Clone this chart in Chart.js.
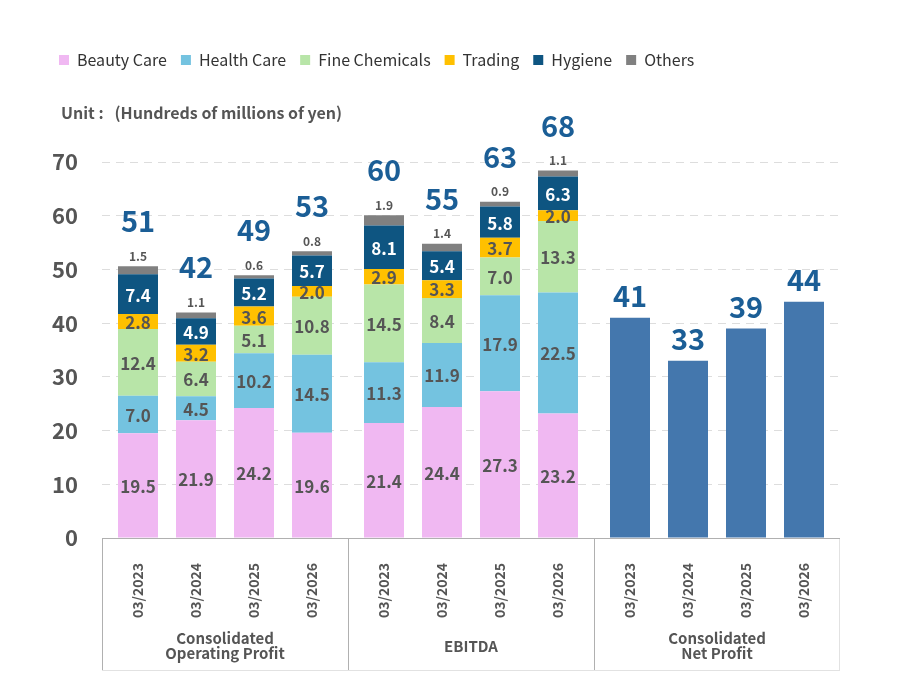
<!DOCTYPE html>
<html>
<head>
<meta charset="utf-8">
<script src="https://cdn.jsdelivr.net/npm/chart.js@4/dist/chart.umd.min.js"></script>
<style>
  html, body { margin: 0; background: #fff; }
  #wrap { width: 900px; height: 700px; }
</style>
</head>
<body>
<div id="wrap"><canvas id="chart" width="900" height="700"></canvas></div>
<script>
// ===== Data =====
const periods = ["03/2023", "03/2024", "03/2025", "03/2026"];
const groupNames = [["Consolidated", "Operating Profit"], ["EBITDA"], ["Consolidated", "Net Profit"]];
const segmentNames = ["Beauty Care", "Health Care", "Fine Chemicals", "Trading", "Hygiene", "Others"];

// first 4 = operating profit, next 4 = EBITDA (by period)
const beautyCare    = [19.5, 21.9, 24.2, 19.6, 21.4, 24.4, 27.3, 23.2];
const healthCare    = [7.0, 4.5, 10.2, 14.5, 11.3, 11.9, 17.9, 22.5];
const fineChemicals = [12.4, 6.4, 5.1, 10.8, 14.5, 8.4, 7.0, 13.3];
const trading       = [2.8, 3.2, 3.6, 2.0, 2.9, 3.3, 3.7, 2.0];
const hygiene       = [7.4, 4.9, 5.2, 5.7, 8.1, 5.4, 5.8, 6.3];
const others        = [1.5, 1.1, 0.6, 0.8, 1.9, 1.4, 0.9, 1.1];
const netProfit     = [41, 33, 39, 44];

const yMax = 70;
const yStep = 10;

// ===== Styles =====
const FONT = '"Noto Sans CJK JP", "Source Sans Pro", "Noto Sans", sans-serif';
const segColors = ["#f0b8f2", "#74c3e0", "#b8e5a8", "#ffc000", "#0e5581", "#808080"];
const netColor = "#4477ad";
const totalColor = "#1b5e96";
const textGray = "#555555";

Chart.defaults.font.family = FONT;

const segData = [beautyCare, healthCare, fineChemicals, trading, hygiene, others];

// one stack per period, placed side by side inside each group
const datasets = [];
periods.forEach((p, pi) => {
  segData.forEach((arr, d) => {
    datasets.push({
      label: segmentNames[d],
      data: [arr[pi], arr[4 + pi], null],
      backgroundColor: segColors[d],
      stack: p
    });
  });
  datasets.push({
    label: "Net Profit",
    data: [null, null, netProfit[pi]],
    backgroundColor: netColor,
    stack: p
  });
});

// ===== Labels + axis boxes =====
const annotate = {
  id: "annotate",
  beforeInit(chart) {
    const origFit = chart.legend.fit;
    chart.legend.fit = function () {
      origFit.bind(chart.legend)();
      this.height = 124;
    };
  },
  afterDatasetsDraw(chart) {
    const ctx = chart.ctx;
    const area = chart.chartArea;
    ctx.save();
    ctx.textAlign = "center";
    ctx.textBaseline = "middle";

    periods.forEach((p, pi) => {
      // segment values
      for (let d = 0; d < 6; d++) {
        const meta = chart.getDatasetMeta(pi * 7 + d);
        for (let g = 0; g < 2; g++) {
          const bar = meta.data[g];
          const v = segData[d][g * 4 + pi];
          if (d === 5) {
            ctx.font = "bold 12px " + FONT;
            ctx.fillStyle = textGray;
            ctx.fillText(v.toFixed(1), bar.x, bar.y - 10);
          } else {
            ctx.font = "bold 17px " + FONT;
            ctx.fillStyle = d === 4 ? "#ffffff" : textGray;
            ctx.fillText(v.toFixed(1), bar.x, (bar.y + bar.base) / 2 + 1);
          }
        }
      }

      // totals
      ctx.font = "bold 29px " + FONT;
      ctx.fillStyle = totalColor;
      const topMeta = chart.getDatasetMeta(pi * 7 + 5);
      for (let g = 0; g < 2; g++) {
        const total = segData.reduce((s, arr) => s + arr[g * 4 + pi], 0);
        ctx.fillText(Math.round(total), topMeta.data[g].x, topMeta.data[g].y - 45);
      }
      const netBar = chart.getDatasetMeta(pi * 7 + 6).data[2];
      ctx.fillText(netProfit[pi], netBar.x, netBar.y - 22);

      // period labels (rotated)
      ctx.font = "bold 14px " + FONT;
      ctx.fillStyle = textGray;
      for (let g = 0; g < 3; g++) {
        const bx = chart.getDatasetMeta(pi * 7).data[g].x;
        ctx.save();
        ctx.translate(bx, area.bottom + 25);
        ctx.rotate(-Math.PI / 2);
        ctx.textAlign = "right";
        ctx.fillText(p, 0, 0);
        ctx.restore();
      }
    });

    // bottom boxes
    const bottom = area.bottom + 132;
    const gw = (area.right - area.left) / 3;
    ctx.lineWidth = 1;
    ctx.strokeStyle = "#e2e2e2";
    ctx.beginPath();
    ctx.moveTo(area.left, bottom + 0.5);
    ctx.lineTo(area.right, bottom + 0.5);
    ctx.moveTo(area.right - 0.5, area.bottom);
    ctx.lineTo(area.right - 0.5, bottom);
    ctx.stroke();
    ctx.strokeStyle = "#b0b0b0";
    ctx.beginPath();
    ctx.moveTo(area.left, area.bottom + 0.5);
    ctx.lineTo(area.right, area.bottom + 0.5);
    for (let g = 0; g < 3; g++) {
      const x = Math.round(area.left + g * gw) + 0.5;
      ctx.moveTo(x, area.bottom);
      ctx.lineTo(x, bottom);
    }
    ctx.stroke();

    ctx.font = "bold 15px " + FONT;
    ctx.fillStyle = textGray;
    groupNames.forEach((lines, g) => {
      const cx = area.left + (g + 0.5) * gw;
      const y0 = area.bottom + 108 - (lines.length - 1) * 7.5;
      lines.forEach((t, k) => ctx.fillText(t, cx, y0 + k * 15));
    });

    // unit
    ctx.textAlign = "left";
    ctx.font = "bold 16px " + FONT;
    ctx.fillStyle = textGray;
    ctx.fillText("Unit :   (Hundreds of millions of yen)", 61, 113);
    ctx.restore();
  }
};

new Chart(document.getElementById("chart"), {
  type: "bar",
  data: { labels: groupNames.map(l => l.join(" ")), datasets },
  options: {
    responsive: false,
    animation: false,
    categoryPercentage: 232 / 246,
    barPercentage: 40 / 58,
    layout: { padding: { top: 38, left: 45, right: 60, bottom: 30 } },
    plugins: {
      tooltip: { enabled: false },
      legend: {
        position: "top",
        align: "start",
        labels: {
          boxWidth: 10,
          boxHeight: 10,
          padding: 14,
          color: "#333",
          font: { size: 16, family: FONT },
          filter: item => item.datasetIndex < 6
        }
      }
    },
    scales: {
      x: {
        stacked: true,
        grid: { display: false, drawTicks: false },
        border: { display: false },
        ticks: { display: false },
        afterFit(s) { s.height = 132; }
      },
      y: {
        stacked: true,
        min: 0,
        max: yMax,
        grid: { color: "#dddddd", drawTicks: false },
        border: { display: false, dash: [8, 6] },
        ticks: {
          stepSize: yStep,
          padding: 24,
          color: textGray,
          font: { size: 22, weight: "bold" }
        },
        afterFit(s) { s.width = 57; }
      }
    }
  },
  plugins: [annotate]
});
</script>
</body>
</html>
